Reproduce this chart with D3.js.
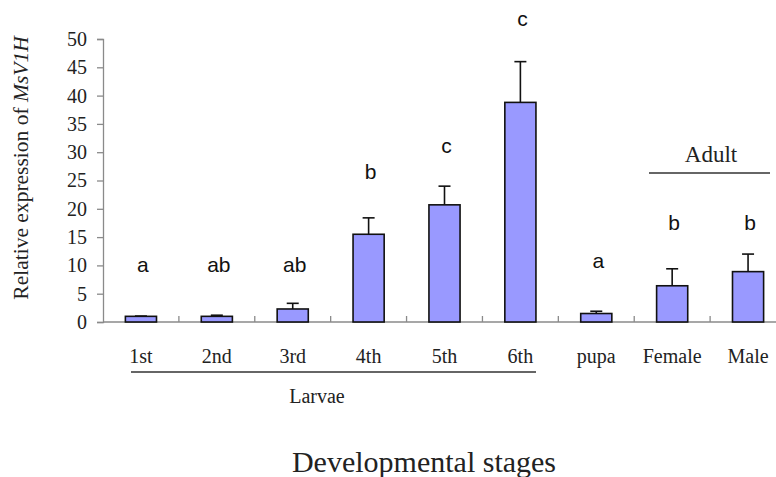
<!DOCTYPE html>
<html>
<head>
<meta charset="utf-8">
<script src="https://cdn.jsdelivr.net/npm/d3@7"></script>
<style>
  body { margin: 0; background: #fff; }
  svg { display: block; }
  svg text { font-family: "Liberation Serif", "Times New Roman", serif; fill: #222; }
  svg text.sig { font-family: "Liberation Sans", Arial, sans-serif; fill: #111; }
</style>
</head>
<body>
<div id="chart"></div>
<script>
const stages = ["1st", "2nd", "3rd", "4th", "5th", "6th", "pupa", "Female", "Male"];
const expression = [1.0, 1.0, 2.3, 15.5, 20.7, 38.8, 1.5, 6.4, 8.9];
const errorTop = [1.05, 1.2, 3.3, 18.4, 24.0, 46.0, 1.9, 9.4, 12.0];
const letters = ["a", "ab", "ab", "b", "c", "c", "a", "b", "b"];
const letterAt = [8.8, 8.8, 8.8, 25.3, 29.9, 52.3, 9.5, 16.3, 16.3];
const yTicks = [0, 5, 10, 15, 20, 25, 30, 35, 40, 45, 50];

const W = 776, H = 477;
const svg = d3.select("#chart").append("svg").attr("width", W).attr("height", H);

const x = d3.scaleBand().domain(stages).range([103, 786]).padding(0);
const y = d3.scaleLinear().domain([0, 50]).range([322, 39]);
const bw = x.bandwidth() * 0.41;
const axisColor = "#8a8a8a";

// y axis
const yAxis = svg.append("g")
  .attr("transform", "translate(103,0)")
  .call(d3.axisLeft(y).tickValues(yTicks).tickSize(6).tickPadding(10));
yAxis.select(".domain").attr("stroke", axisColor).attr("stroke-width", 1.3);
yAxis.selectAll(".tick line").attr("stroke", axisColor).attr("stroke-width", 1.3);
yAxis.selectAll(".tick text").style("font-size", "20px");

// x axis baseline + upward ticks at band boundaries
svg.append("line")
  .attr("x1", 103).attr("x2", W).attr("y1", y(0)).attr("y2", y(0))
  .attr("stroke", axisColor).attr("stroke-width", 1.3);
svg.append("g").selectAll("line")
  .data(stages.slice(1))
  .join("line")
  .attr("x1", d => x(d)).attr("x2", d => x(d))
  .attr("y1", y(0)).attr("y2", y(0) - 6)
  .attr("stroke", axisColor).attr("stroke-width", 1.3);

// bars
svg.append("g").selectAll("rect")
  .data(stages)
  .join("rect")
  .attr("x", d => x(d) + (x.bandwidth() - bw) / 2)
  .attr("width", bw)
  .attr("y", (d, i) => y(expression[i]))
  .attr("height", (d, i) => y(0) - y(expression[i]))
  .attr("fill", "#9999ff")
  .attr("stroke", "#111")
  .attr("stroke-width", 1.6);

// error bars
const eb = svg.append("g").attr("stroke", "#111").attr("stroke-width", 1.6);
stages.forEach((s, i) => {
  const cx = x(s) + x.bandwidth() / 2;
  eb.append("line").attr("x1", cx).attr("x2", cx)
    .attr("y1", y(expression[i])).attr("y2", y(errorTop[i]));
  eb.append("line").attr("x1", cx - 6).attr("x2", cx + 6)
    .attr("y1", y(errorTop[i])).attr("y2", y(errorTop[i]));
});

// significance letters
svg.append("g").selectAll("text")
  .data(stages)
  .join("text")
  .attr("class", "sig")
  .attr("x", d => x(d) + x.bandwidth() / 2 + 2)
  .attr("y", (d, i) => y(letterAt[i]))
  .attr("text-anchor", "middle")
  .style("font-size", "21px")
  .text((d, i) => letters[i]);

// category labels
svg.append("g").selectAll("text")
  .data(stages)
  .join("text")
  .attr("x", d => x(d) + x.bandwidth() / 2)
  .attr("y", 363)
  .attr("text-anchor", "middle")
  .style("font-size", "20px")
  .text(d => d);

// Larvae group
svg.append("line").attr("x1", 131).attr("x2", 536).attr("y1", 372).attr("y2", 372)
  .attr("stroke", "#333").attr("stroke-width", 1.3);
svg.append("text").attr("x", 317).attr("y", 403).attr("text-anchor", "middle")
  .style("font-size", "20px").text("Larvae");

// Adult group
svg.append("line").attr("x1", 649).attr("x2", 770).attr("y1", 173).attr("y2", 173)
  .attr("stroke", "#333").attr("stroke-width", 1.3);
svg.append("text").attr("x", 711).attr("y", 162).attr("text-anchor", "middle")
  .style("font-size", "23px").text("Adult");

// x title
svg.append("text").attr("x", 424).attr("y", 472).attr("text-anchor", "middle")
  .style("font-size", "30px")
  .text("Developmental stages");

// y title
const yt = svg.append("text")
  .attr("transform", "translate(28,168) rotate(-90)")
  .attr("text-anchor", "middle")
  .style("font-size", "21.5px");
yt.append("tspan").text("Relative expression of ");
yt.append("tspan").style("font-style", "italic").text("MsV1H");
</script>
</body>
</html>
